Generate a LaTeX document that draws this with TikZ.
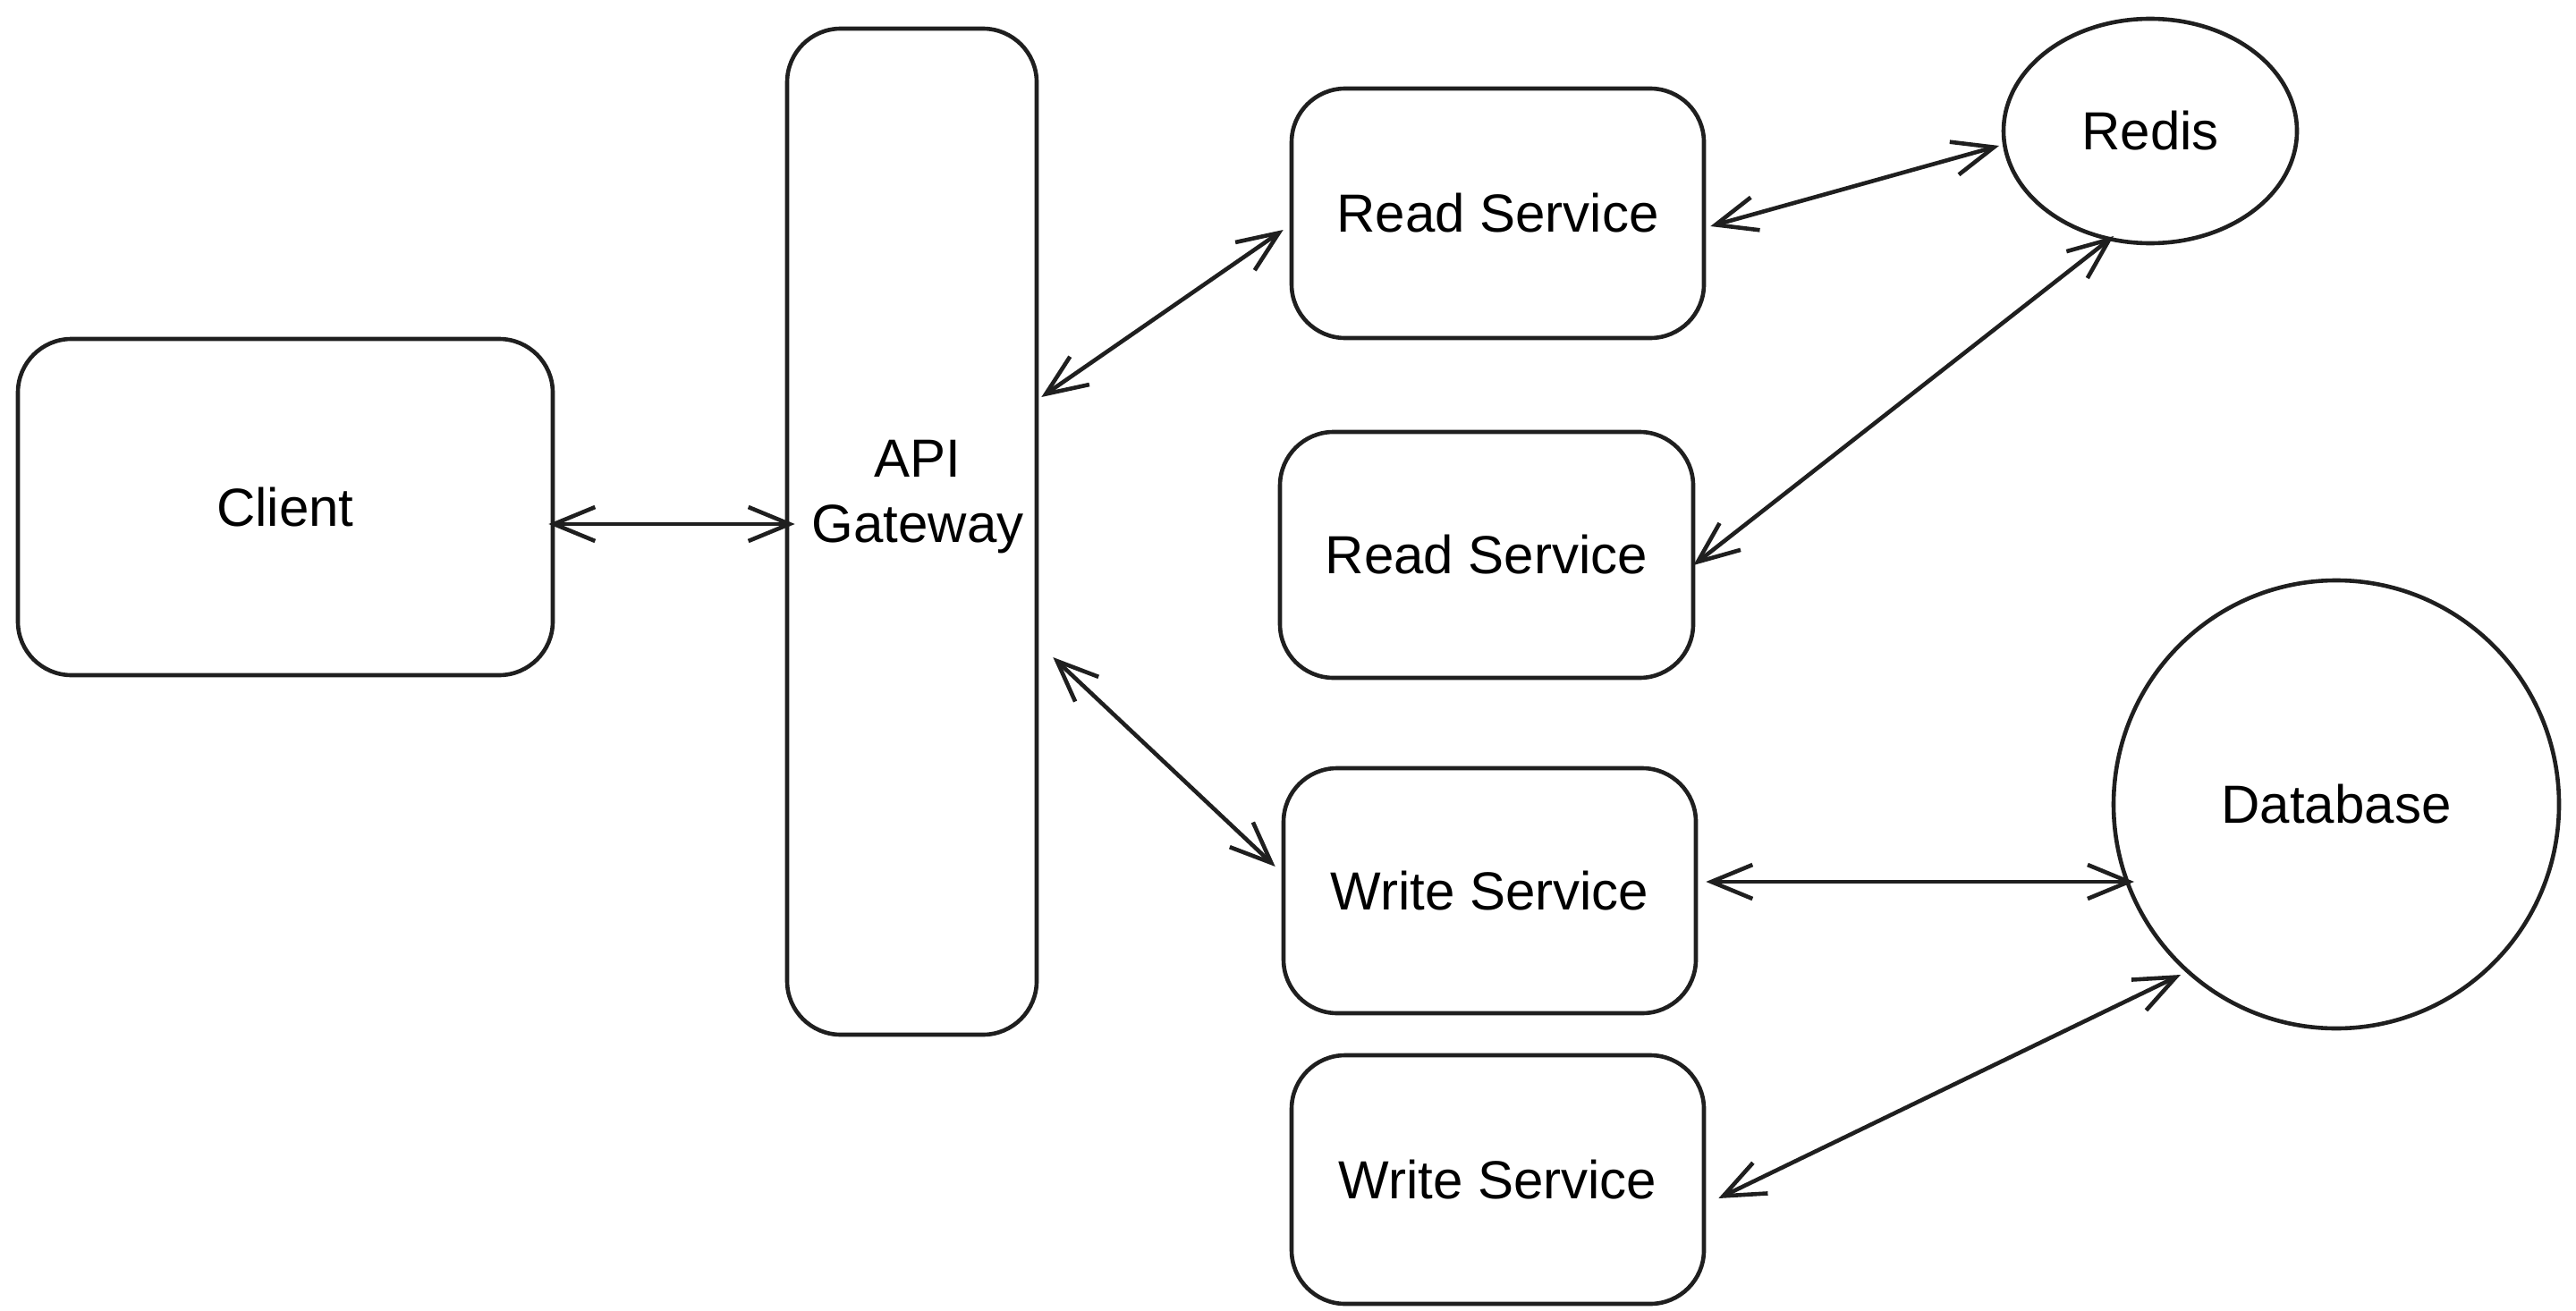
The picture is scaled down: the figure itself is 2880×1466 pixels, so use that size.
\documentclass[tikz,border=0pt]{standalone}
\usepackage{fontspec}
\setmainfont{Liberation Sans}
\usetikzlibrary{arrows.meta,shapes.geometric}
\begin{document}
\begin{tikzpicture}[x=1pt,y=-1pt,
  line width=4.6pt, line cap=round, line join=round, draw=black!88,
  box/.style={draw, rectangle, rounded corners=60pt, inner sep=0pt, font=\fontsize{60}{72}\selectfont},
  oval/.style={draw, ellipse, inner sep=0pt, font=\fontsize{60}{72}\selectfont},
  link/.style={{Straight Barb[length=46pt,width=38pt]}-{Straight Barb[length=46pt,width=38pt]}}]
\useasboundingbox (0,0) rectangle (2880,1466);
\node[box, minimum width=598pt, minimum height=376pt] (client) at (319,567) {Client};
\node[box, minimum width=279pt, minimum height=1125pt] (gw) at (1019.5,594.5) {};
\node[font=\fontsize{60}{73}\selectfont, align=center] (gwtext) at (1026,556) {API\\Gateway};
\node[box, minimum width=461pt, minimum height=279pt] (read1) at (1674.5,238.5) {Read Service};
\node[box, minimum width=462pt, minimum height=275pt] (read2) at (1662,620.5) {Read Service};
\node[box, minimum width=461pt, minimum height=274pt] (write1) at (1665.5,996) {Write Service};
\node[box, minimum width=461pt, minimum height=278pt] (write2) at (1674.5,1319) {Write Service};
\node[oval, minimum width=328pt, minimum height=251pt] (redis) at (2404,146.5) {Redis};
\node[oval, minimum width=498pt, minimum height=501pt] (db) at (2612,899.5) {Database};
\draw[link] ([xshift=-7pt,yshift=-19pt]client.east) -- ([xshift=11pt,yshift=8.5pt]gw.west);
\draw[link] ([xshift=3pt,yshift=150.5pt]gw.east) -- ([xshift=-7pt,yshift=-18.5pt]read1.west);
\draw[link] ([xshift=16pt,yshift=-140.5pt]gw.east) -- ([xshift=-7pt,yshift=27pt]write1.west);
\draw[link] ([xshift=5pt,yshift=-14.5pt]read1.east) -- ([xshift=-169pt,yshift=-16.5pt]redis.center);
\draw[link] ([xshift=-41pt,yshift=-117.5pt]redis.center) -- ([xshift=-2pt,yshift=-11.5pt]read2.east);
\draw[link] ([xshift=9pt,yshift=10pt]write1.east) -- ([xshift=-226pt,yshift=-86.5pt]db.center);
\draw[link] ([xshift=14pt,yshift=-21pt]write2.east) -- ([xshift=-174pt,yshift=-190.5pt]db.center);
\end{tikzpicture}
\end{document}
